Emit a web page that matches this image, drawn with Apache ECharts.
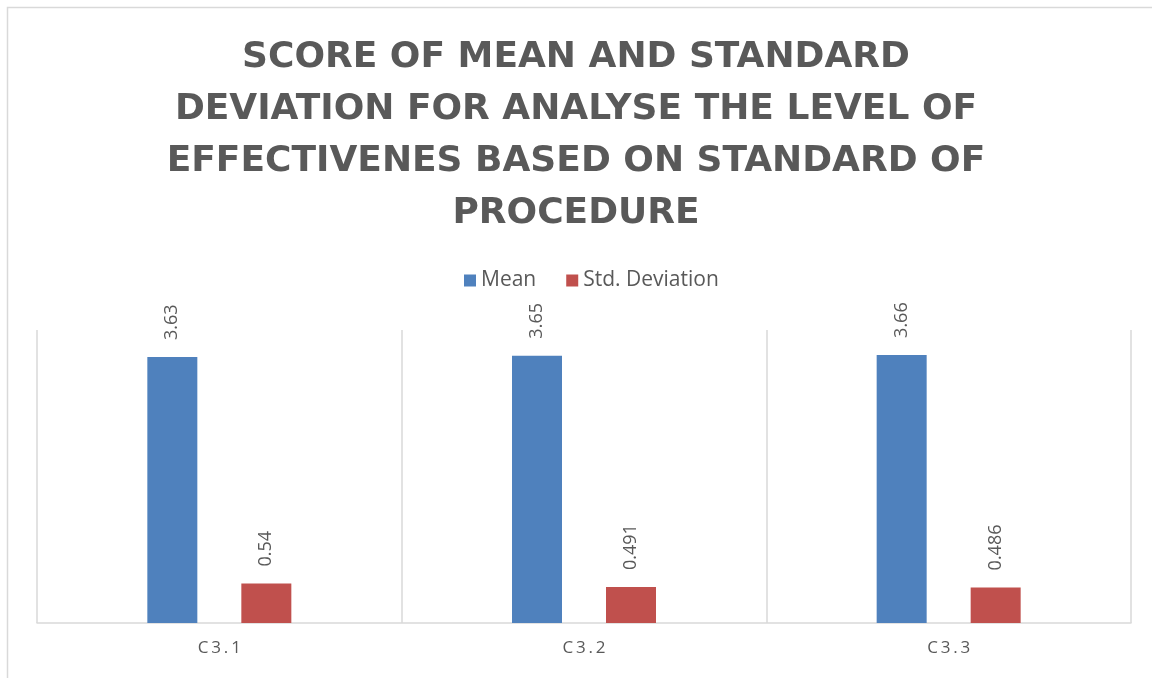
<!DOCTYPE html>
<html>
<head>
<meta charset="utf-8">
<script src="https://cdn.jsdelivr.net/npm/echarts@6/dist/echarts.min.js"></script>
<style>
  html, body { margin: 0; padding: 0; background: #fff; }
  #chart { width: 1152px; height: 678px; }
</style>
</head>
<body>
<div id="chart"></div>
<script>
// chart data
const categories = ['C3.1', 'C3.2', 'C3.3'];
const meanValues = [3.63, 3.65, 3.66];
const stdValues = [0.54, 0.491, 0.486];

const textColor = '#595959';
const chart = echarts.init(document.getElementById('chart'));

const barLabel = {
  show: true,
  position: 'top',
  rotate: 90,
  align: 'left',
  verticalAlign: 'middle',
  distance: 17,
  color: textColor,
  fontFamily: 'Open Sans',
  fontSize: 18
};

chart.setOption({
  animation: false,
  backgroundColor: '#fff',
  title: {
    text: 'SCORE OF MEAN AND STANDARD\nDEVIATION FOR ANALYSE THE LEVEL OF\nEFFECTIVENES BASED ON STANDARD OF\nPROCEDURE',
    left: 'center',
    top: 27,
    textStyle: {
      fontFamily: 'DejaVu Sans',
      fontWeight: 'bold',
      fontSize: 36,
      lineHeight: 52,
      color: textColor
    }
  },
  legend: {
    top: 265,
    left: 459,
    itemWidth: 12,
    itemHeight: 12,
    itemGap: 30,
    icon: 'rect',
    textStyle: { color: textColor, fontFamily: 'Open Sans', fontSize: 21 },
    data: ['Mean', 'Std. Deviation']
  },
  grid: { left: 37, right: 21, top: 330, bottom: 55 },
  xAxis: {
    type: 'category',
    data: categories,
    axisTick: { show: false },
    axisLine: { lineStyle: { color: '#d9d9d9', width: 1.5 } },
    splitLine: { show: true, lineStyle: { color: '#d9d9d9', width: 1.5 } },
    axisLabel: {
      color: textColor,
      fontFamily: 'Open Sans',
      fontSize: 17,
      margin: 17,
      formatter: v => v.split('').join('\u2009')
    }
  },
  yAxis: {
    type: 'value',
    min: 0,
    max: 4,
    show: false
  },
  series: [
    {
      name: 'Mean',
      type: 'bar',
      data: meanValues,
      barWidth: 50,
      barGap: '88%',
      itemStyle: { color: '#4f81bd' },
      label: barLabel
    },
    {
      name: 'Std. Deviation',
      type: 'bar',
      data: stdValues,
      barWidth: 50,
      itemStyle: { color: '#c0504d' },
      label: barLabel
    }
  ],
  graphic: [{
    type: 'rect',
    shape: { x: 7.5, y: 7.5, width: 1200, height: 700 },
    style: { fill: null, stroke: '#d9d9d9', lineWidth: 1.5 },
    silent: true
  }]
});
</script>
</body>
</html>
